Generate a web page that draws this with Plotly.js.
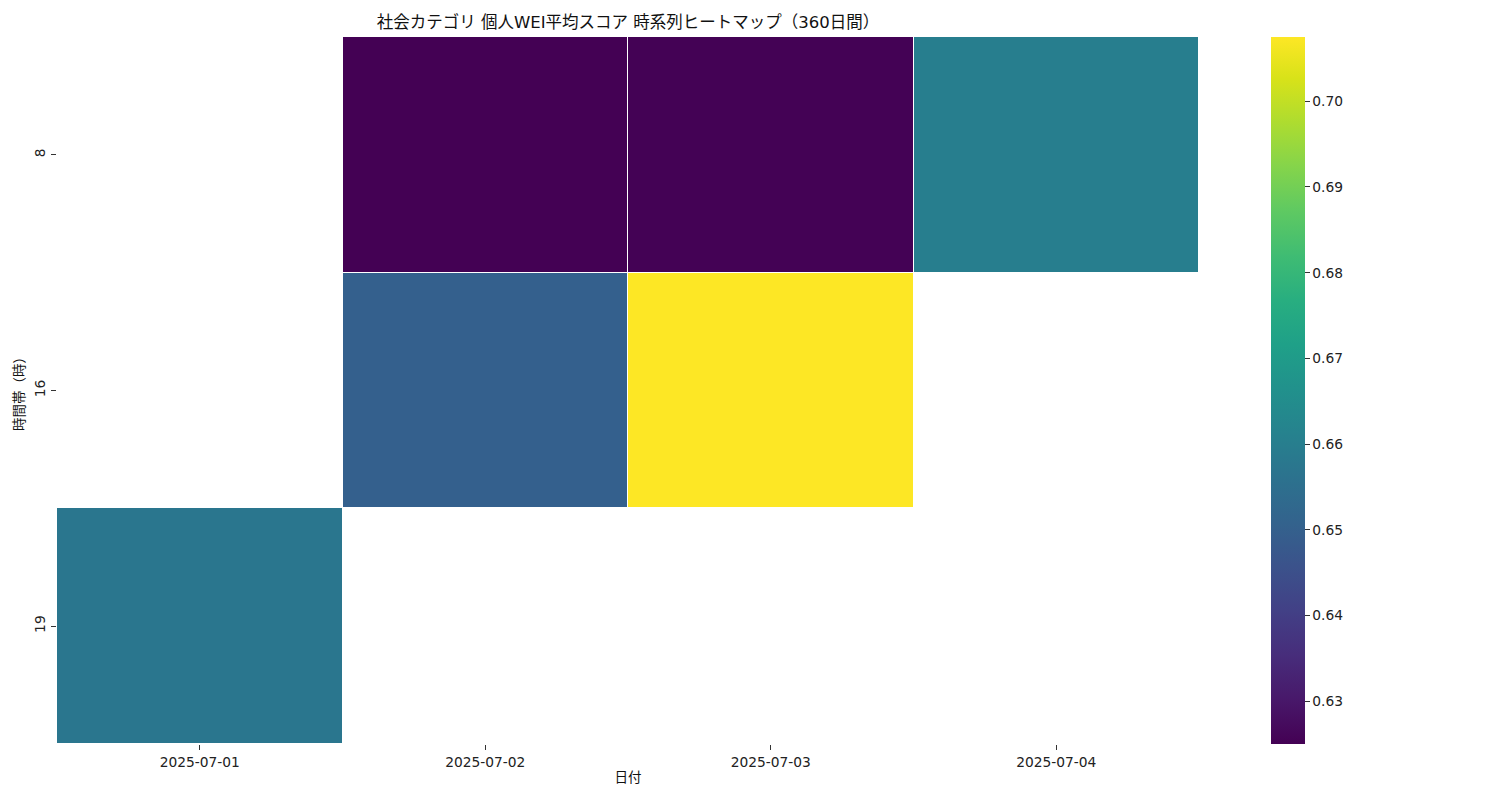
<!DOCTYPE html>
<html><head><meta charset="utf-8">
<script src="https://cdn.plot.ly/plotly-3.0.1.min.js"></script>
<style>body{margin:0;background:#fff}#chart{width:1500px;height:800px}</style>
</head><body><div id="chart"></div>
<script>
const dates = ['2025-07-01','2025-07-02','2025-07-03','2025-07-04'];
const hours = ['8','16','19'];
const hour8 = [null, 0.625, 0.6252, 0.6600];
const hour16 = [null, 0.6500, 0.7075, null];
const hour19 = [0.6575, null, null, null];

const fam = '"DejaVu Sans", "Noto Sans CJK JP", sans-serif';
const font = {family: fam, size: 13.8, color: '#222'};

const trace = {
  type: 'heatmap',
  x: dates,
  y: hours,
  z: [hour8, hour16, hour19],
  colorscale: 'Viridis',
  zmin: 0.625, zmax: 0.7075,
  xgap: 1, ygap: 1,
  hoverongaps: false,
  colorbar: {
    x: 1.063, xanchor: 'left', xref: 'paper', xpad: 0, ypad: 0,
    y: 0.5, yanchor: 'middle', len: 1, lenmode: 'fraction',
    thickness: 34, outlinewidth: 0,
    tickvals: [0.63,0.64,0.65,0.66,0.67,0.68,0.69,0.70],
    ticktext: ['0.63','0.64','0.65','0.66','0.67','0.68','0.69','0.70'],
    ticks: 'outside', ticklen: 5, tickcolor: '#333',
    tickfont: font
  }
};

const layout = {
  width: 1500, height: 800,
  margin: {l: 57, r: 301, t: 37, b: 56},
  paper_bgcolor: '#fff', plot_bgcolor: '#fff',
  font: font,
  title: {text: '社会カテゴリ 個人WEI平均スコア 時系列ヒートマップ（360日間）', x: 0.5, xref: 'paper', xanchor: 'center', y: 0.972, yref: 'container', yanchor: 'middle', font: {family: fam, size: 16.5, color: '#111'}},
  xaxis: {type: 'category', showgrid: false, zeroline: false, showline: false, ticks: 'outside', ticklen: 5, tickcolor: '#333',
    title: {text: '日付', standoff: 3, font: {family: fam, size: 13.5, color: '#111'}}, tickfont: font},
  yaxis: {type: 'category', autorange: 'reversed', showgrid: false, zeroline: false, showline: false, ticks: 'outside', ticklen: 5, tickcolor: '#333',
    tickangle: -90, title: {text: '時間帯（時）', standoff: 4, font: {family: fam, size: 13.5, color: '#111'}}, tickfont: font}
};

Plotly.newPlot('chart', [trace], layout, {displayModeBar: false, staticPlot: true});
</script></body></html>
